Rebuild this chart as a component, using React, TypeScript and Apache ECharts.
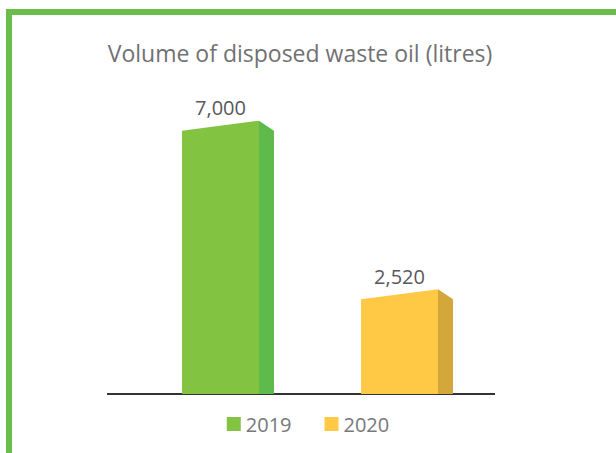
import React, { useEffect, useRef } from "react";
import * as echarts from "echarts";

const categories = ["2019", "2020"];
const values = [7000, 2520];
const titleText = "Volume of disposed waste oil (litres)";
const frontColors = ["#82C341", "#FFC845"];
const sideColors = ["#5EBA4A", "#D4A73B"];

const FONT = "'Open Sans', 'Noto Sans', sans-serif";

function makeRender(sideColor: string, frontColor: string) {
  return (params: any, api: any) => {
    const base = api.coord([api.value(0), 0]);
    const top = api.coord([api.value(0), api.value(1)]);
    const band = api.size([1, 0])[0];
    const w = band * 0.43;
    const x0 = top[0] - w / 2;
    const x1 = top[0] + w / 2;
    const slant = 10;
    const depth = 15;
    const v = api.value(1);
    return {
      type: "group",
      children: [
        {
          type: "polygon",
          shape: {
            points: [
              [x0, base[1]],
              [x0, top[1]],
              [x1, top[1] - slant],
              [x1, base[1]],
            ],
          },
          style: { fill: frontColor },
        },
        {
          type: "polygon",
          shape: {
            points: [
              [x1, base[1]],
              [x1, top[1] - slant],
              [x1 + depth, top[1]],
              [x1 + depth, base[1]],
            ],
          },
          style: { fill: sideColor },
        },
        {
          type: "text",
          x: top[0],
          y: top[1] - 13,
          style: {
            text: v.toLocaleString("en-US"),
            fill: "#58595B",
            fontSize: 20,
            fontFamily: FONT,
            align: "center",
            verticalAlign: "bottom",
          },
        },
      ],
    };
  };
}

export default function App() {
  const ref = useRef<HTMLDivElement>(null);
  useEffect(() => {
    if (!ref.current) return;
    const chart = echarts.init(ref.current, null, { renderer: "svg" });
    chart.setOption({
      animation: false,
      backgroundColor: "#ffffff",
      grid: { left: 131, right: 127, top: 93, bottom: 59 },
      xAxis: {
        type: "category",
        data: categories,
        axisLine: { show: false },
        axisTick: { show: false },
        axisLabel: { show: false },
      },
      yAxis: {
        type: "value",
        min: 0,
        max: 8000,
        show: false,
        splitLine: { show: false },
      },
      legend: {
        data: categories,
        bottom: 14,
        left: "center",
        itemWidth: 14,
        itemHeight: 14,
        itemGap: 33,
        icon: "rect",
        textStyle: { fontSize: 20, color: "#77787B", fontFamily: FONT },
      },
      graphic: [
        { type: "rect", shape: { x: 6, y: 9, width: 6, height: 444 }, style: { fill: "#6ABD4B" } },
        { type: "rect", shape: { x: 6, y: 9, width: 610, height: 6 }, style: { fill: "#6ABD4B" } },
        {
          type: "line",
          shape: { x1: 107, y1: 394, x2: 495, y2: 394 },
          style: { stroke: "#333333", lineWidth: 2 },
        },
        {
          type: "text",
          x: 300,
          y: 53,
          style: {
            text: titleText,
            fill: "#717173",
            fontSize: 23,
            fontFamily: FONT,
            align: "center",
            verticalAlign: "middle",
          },
        },
      ],
      series: categories.map((c, i) => ({
        name: c,
        type: "custom",
        itemStyle: { color: frontColors[i] },
        encode: { x: 0, y: 1 },
        data: [[i, values[i]]],
        renderItem: makeRender(sideColors[i], frontColors[i]),
        z: 2,
      })),
    });
    return () => chart.dispose();
  }, []);
  return (
    <div
      ref={ref}
      style={{ position: "fixed", left: 0, top: 0, width: 616, height: 453 }}
    />
  );
}
